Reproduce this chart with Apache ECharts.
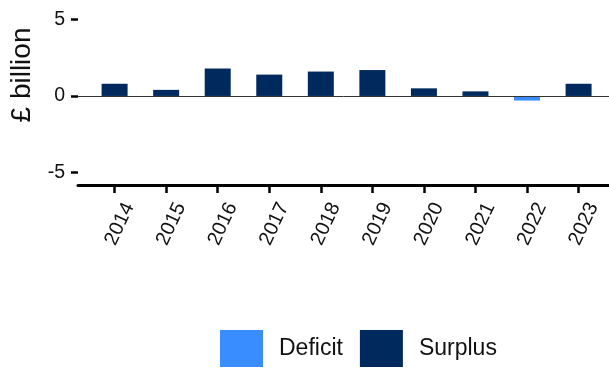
<!DOCTYPE html>
<html>
<head>
<meta charset="utf-8">
<script src="https://cdn.jsdelivr.net/npm/echarts@6/dist/echarts.min.js"></script>
<style>
  html, body { margin: 0; padding: 0; background: #fff; }
  #chart { width: 609px; height: 368px; }
</style>
</head>
<body>
<div id="chart"></div>
<script>
// Annual balance, £ billion
const years = [2014, 2015, 2016, 2017, 2018, 2019, 2020, 2021, 2022, 2023];
const balance = [0.8, 0.4, 1.8, 1.4, 1.6, 1.7, 0.5, 0.3, -0.3, 0.8];
const yTicks = [-5, 0, 5];
const seriesNames = ['Deficit', 'Surplus'];
const colors = { Deficit: '#3A8DFF', Surplus: '#002A5E' };

const deficitData = years.map((y, i) => balance[i] < 0 ? [y, balance[i]] : [y, null]);
const surplusData = years.map((y, i) => balance[i] >= 0 ? [y, balance[i]] : [y, null]);

const font = 'Liberation Sans, Arial, sans-serif';
const chart = echarts.init(document.getElementById('chart'), null, { renderer: 'canvas' });

chart.setOption({
  animation: false,
  backgroundColor: '#ffffff',
  grid: { left: 78, right: 0, top: 6, bottom: 183, containLabel: false },
  legend: {
    data: seriesNames,
    left: 220,
    top: 330,
    padding: 0,
    itemWidth: 43,
    itemHeight: 37,
    itemGap: 17,
    icon: 'rect',
    textStyle: { fontFamily: font, fontSize: 23, color: '#111', padding: [0, 0, 0, 11] }
  },
  xAxis: {
    type: 'value',
    min: 2013.29,
    max: 2023.59,
    axisLine: { show: true, onZero: false, lineStyle: { color: '#000', width: 3 } },
    axisTick: { show: true, customValues: years, length: 8, lineStyle: { color: '#000', width: 2.5 } },
    axisLabel: {
      customValues: years,
      rotate: 65,
      margin: 12,
      align: 'right',
      verticalAlign: 'top',
      padding: [6, 0, 0, 0],
      fontFamily: font,
      fontSize: 20,
      color: '#111',
      formatter: v => String(v)
    },
    splitLine: { show: false }
  },
  yAxis: {
    type: 'value',
    min: -5.84,
    max: 5.90,
    axisLine: { show: false },
    axisTick: { show: true, customValues: yTicks, length: 7, lineStyle: { color: '#000', width: 2.5 } },
    axisLabel: { customValues: yTicks, margin: 13, fontFamily: font, fontSize: 19.5, color: '#111' },
    splitLine: { show: false }
  },
  graphic: [{
    type: 'text',
    x: 22.5,
    y: 75,
    rotation: Math.PI / 2,
    style: {
      text: '£ billion',
      font: '28px Liberation Sans, Arial, sans-serif',
      fill: '#111',
      textAlign: 'center',
      textVerticalAlign: 'middle'
    }
  }],
  series: [
    {
      name: 'Deficit',
      type: 'bar',
      stack: 'balance',
      barWidth: 26,
      itemStyle: { color: colors.Deficit },
      data: deficitData,
      z: 2
    },
    {
      name: 'Surplus',
      type: 'bar',
      stack: 'balance',
      barWidth: 26,
      itemStyle: { color: colors.Surplus },
      data: surplusData,
      z: 2,
      markLine: {
        silent: true,
        symbol: 'none',
        label: { show: false },
        lineStyle: { color: '#333', width: 1, type: 'solid' },
        data: [{ yAxis: 0 }],
        z: 3
      }
    }
  ]
});
</script>
</body>
</html>
